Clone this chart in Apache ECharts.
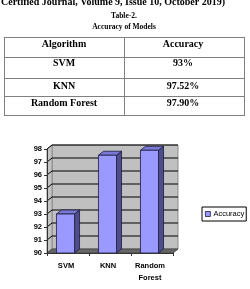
<!DOCTYPE html>
<html>
<head>
<meta charset="utf-8">
<script src="https://cdn.jsdelivr.net/npm/echarts@6/dist/echarts.min.js"></script>
<style>
html,body{margin:0;padding:0;background:#fff;}
#c{width:250px;height:289px;}
</style>
</head>
<body>
<div id="c"></div>
<script>
// ---- data ----
const headerText = 'Certified Journal, Volume 9, Issue 10, October 2019)';
const tableTitle = 'Table-2.';
const tableCaption = 'Accuracy of Models';
const tableHeaders = ['Algorithm', 'Accuracy'];
const tableAlgorithms = ['SVM', 'KNN', 'Random Forest'];
const tableAccuracyText = ['93%', '97.52%', '97.90%'];

const categories = ['SVM', 'KNN', 'Random\nForest'];
const accuracyValues = [93, 97.52, 97.90];
const seriesName = 'Accuracy';
const yTicks = [90, 91, 92, 93, 94, 95, 96, 97, 98];
const yMin = 90, yMax = 98;

// ---- drawing ----
const DX = 5, DY = 4;
const chart = echarts.init(document.getElementById('c'), null, {renderer: 'canvas'});

function wallRender(params, api) {
  const bw = api.size([1, 0])[0];
  const xL = api.coord([0, yMin])[0] - bw / 2;
  const xR = api.coord([categories.length - 1, yMin])[0] + bw / 2;
  const yB = api.coord([0, yMin])[1];
  const yT = api.coord([0, yMax])[1];
  const children = [];
  children.push({type: 'polygon', shape: {points: [[xL + DX, yT - DY], [xR + DX, yT - DY], [xR + DX, yB - DY], [xL + DX, yB - DY]]},
    style: {fill: '#c0c0c0', stroke: '#8a8a8a', lineWidth: 1}});
  children.push({type: 'polygon', shape: {points: [[xL, yT], [xL + DX, yT - DY], [xL + DX, yB - DY], [xL, yB]]},
    style: {fill: '#c4c4c4', stroke: '#8a8a8a', lineWidth: 1}});
  yTicks.forEach(function (t) {
    if (t === yMin) return;
    const y = api.coord([0, t])[1];
    children.push({type: 'polyline', shape: {points: [[xL, y], [xL + DX, y - DY], [xR + DX, y - DY]]},
      style: {stroke: '#000', lineWidth: 1, fill: null}});
  });
  children.push({type: 'polygon', shape: {points: [[xL, yB], [xL + DX, yB - DY], [xR + DX, yB - DY], [xR, yB]]},
    style: {fill: '#666', stroke: '#4a4a4a', lineWidth: 1}});
  return {type: 'group', children: children};
}

function barRender(params, api) {
  const c = api.coord([api.value(0), api.value(1)]);
  const b = api.coord([api.value(0), yMin]);
  const bw = api.size([1, 0])[0];
  const w = bw * 0.43;
  const x0 = c[0] - (w + DX) / 2, x1 = x0 + w;
  return {type: 'group', children: [
    {type: 'polygon', shape: {points: [[x1, c[1]], [x1 + DX, c[1] - DY], [x1 + DX, b[1] - DY], [x1, b[1]]]},
      style: {fill: '#4d4d8c', stroke: '#1a1a40', lineWidth: 0.8}},
    {type: 'polygon', shape: {points: [[x0, c[1]], [x0 + DX, c[1] - DY], [x1 + DX, c[1] - DY], [x1, c[1]]]},
      style: {fill: '#7a7ad6', stroke: '#1a1a40', lineWidth: 0.8}},
    {type: 'rect', shape: {x: x0, y: c[1], width: w, height: b[1] - c[1]},
      style: {fill: '#9999ff', stroke: '#1a1a40', lineWidth: 0.8}}
  ]};
}

const tableTop = 37, rowLines = [37, 57, 78, 96, 115];
const tableLeft = 4, tableRight = 244, colDiv = 124;
const rowTextY = [44, 63, 86, 103];
const graphics = [];
graphics.push({type: 'text', left: 1, top: -3, style: {text: headerText, font: 'bold 10px "Liberation Serif"', fill: '#000'}});
graphics.push({type: 'text', x: 124, y: 16, style: {text: tableTitle, font: 'bold 7.5px "Liberation Serif"', fill: '#000', align: 'center', verticalAlign: 'middle'}});
graphics.push({type: 'text', x: 124, y: 27, style: {text: tableCaption, font: 'bold 7.5px "Liberation Serif"', fill: '#000', align: 'center', verticalAlign: 'middle'}});
rowLines.forEach(function (y) {
  graphics.push({type: 'line', shape: {x1: tableLeft, y1: y + 0.5, x2: tableRight, y2: y + 0.5}, style: {stroke: '#808080', lineWidth: 1}});
});
[tableLeft, colDiv, tableRight].forEach(function (x) {
  graphics.push({type: 'line', shape: {x1: x + 0.5, y1: tableTop, x2: x + 0.5, y2: rowLines[rowLines.length - 1] + 1}, style: {stroke: '#808080', lineWidth: 1}});
});
const rows = [tableHeaders].concat(tableAlgorithms.map(function (a, i) { return [a, tableAccuracyText[i]]; }));
rows.forEach(function (r, i) {
  graphics.push({type: 'text', x: 64, y: rowTextY[i], style: {text: r[0], font: 'bold 10px "Liberation Serif"', fill: '#000', align: 'center', verticalAlign: 'middle'}});
  graphics.push({type: 'text', x: 183, y: rowTextY[i], style: {text: r[1], font: 'bold 10px "Liberation Serif"', fill: '#000', align: 'center', verticalAlign: 'middle'}});
});

chart.setOption({
  animation: false,
  backgroundColor: '#fff',
  textStyle: {fontFamily: 'Liberation Sans'},
  graphic: graphics,
  grid: {left: 47, right: 77, top: 149, bottom: 36},
  legend: {
    data: [seriesName], left: 202, top: 207, orient: 'vertical',
    icon: 'rect', itemWidth: 5, itemHeight: 5, itemGap: 0,
    padding: [3, 2, 3, 3], borderColor: '#000', borderWidth: 1,
    itemStyle: {borderColor: '#1a1a40', borderWidth: 0.8},
    textStyle: {fontSize: 7.5, color: '#000', padding: [0, 0, 0, -2]}
  },
  xAxis: {
    type: 'category', data: categories, z: 5,
    axisLine: {lineStyle: {color: '#333', width: 1}},
    axisTick: {show: true, length: 3, lineStyle: {color: '#333'}},
    axisLabel: {fontSize: 7.5, fontWeight: 'bold', color: '#000', margin: 7, lineHeight: 12, padding: [0, 4, 0, 0]},
    splitLine: {show: false}
  },
  yAxis: {
    type: 'value', min: yMin, max: yMax, interval: 1, z: 5,
    axisLine: {show: true, lineStyle: {color: '#333', width: 1}},
    axisTick: {show: true, length: 3, lineStyle: {color: '#333'}},
    axisLabel: {fontSize: 7.5, fontWeight: 'bold', color: '#000', margin: 5},
    splitLine: {show: false}
  },
  series: [
    {type: 'custom', name: '__wall', renderItem: wallRender, data: [[0, yMin]], z: 1, silent: true},
    {type: 'custom', name: seriesName, renderItem: barRender, z: 3,
      itemStyle: {color: '#9999ff'},
      data: accuracyValues.map(function (v, i) { return [i, v]; })}
  ]
});
</script>
</body>
</html>
